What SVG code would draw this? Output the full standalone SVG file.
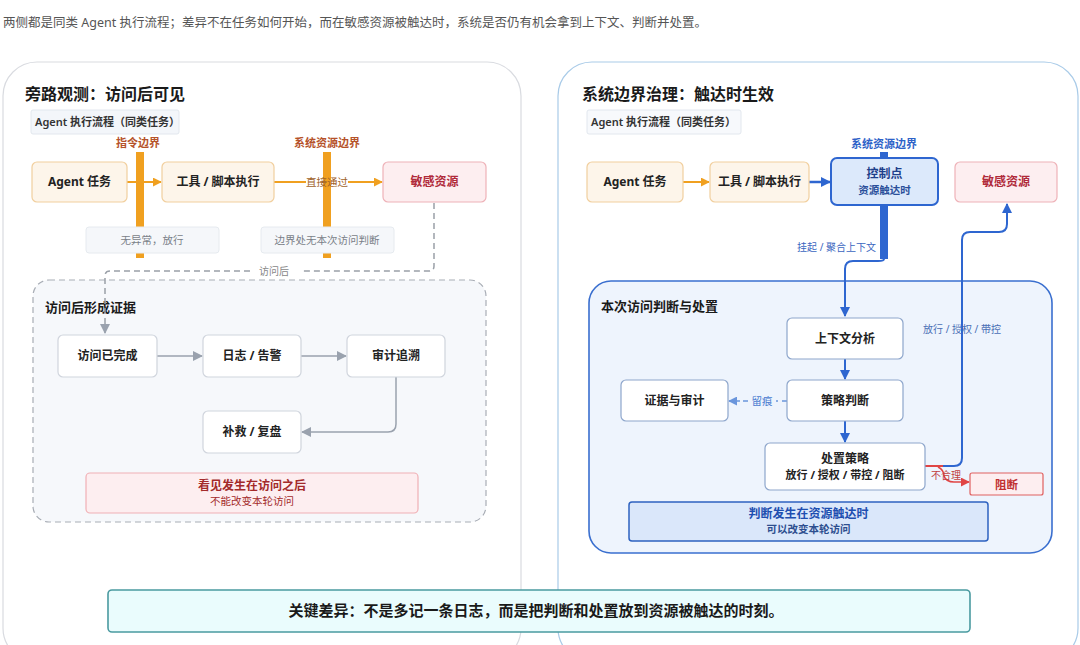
<svg xmlns="http://www.w3.org/2000/svg" width="1080" height="645" viewBox="0 0 1080 645">
<defs>
<style>
text{font-family:"Noto Sans","Noto Sans CJK SC",sans-serif;}
.t{font-weight:700;fill:#222;font-size:12px;text-anchor:middle;}
.title{font-weight:700;fill:#1a1a1a;font-size:16px;}
.sub{font-weight:700;fill:#1a1a1a;font-size:13px;}
.lab{font-size:11px;fill:#333;font-weight:600;}
.orange{fill:#fdf5ea;stroke:#f1cf9e;stroke-width:1.2;}
.red{fill:#fdeef0;stroke:#eeb2b8;stroke-width:1.2;}
.white{fill:#fff;stroke:#d0d5dd;stroke-width:1.2;}
.wb{fill:#fff;stroke:#8ea6cc;stroke-width:1.2;}
.note{fill:#f5f7fa;stroke:#e6eaef;stroke-width:1;}
.nt{font-size:10.5px;fill:#7a7f88;text-anchor:middle;}
</style>
<marker id="ao" viewBox="0 0 10 10" refX="9" refY="5" markerWidth="9" markerHeight="9" markerUnits="userSpaceOnUse" orient="auto"><path d="M0,0L10,5L0,10z" fill="#f0a020"/></marker>
<marker id="ab" viewBox="0 0 10 10" refX="9" refY="5" markerWidth="10" markerHeight="10" markerUnits="userSpaceOnUse" orient="auto"><path d="M0,0L10,5L0,10z" fill="#2e66d0"/></marker>
<marker id="alb" viewBox="0 0 10 10" refX="9" refY="5" markerWidth="9" markerHeight="9" markerUnits="userSpaceOnUse" orient="auto"><path d="M0,0L10,5L0,10z" fill="#6a95dc"/></marker>
<marker id="ag" viewBox="0 0 10 10" refX="9" refY="5" markerWidth="10" markerHeight="10" markerUnits="userSpaceOnUse" orient="auto"><path d="M0,0L10,5L0,10z" fill="#9aa2ae"/></marker>
<marker id="ar" viewBox="0 0 10 10" refX="9" refY="5" markerWidth="9" markerHeight="9" markerUnits="userSpaceOnUse" orient="auto"><path d="M0,0L10,5L0,10z" fill="#e04545"/></marker>
</defs>
<rect width="1080" height="645" fill="#fff"/>
<text x="3" y="27" font-size="12.5" fill="#555">两侧都是同类 Agent 执行流程；差异不在任务如何开始，而在敏感资源被触达时，系统是否仍有机会拿到上下文、判断并处置。</text>

<!-- panels -->
<g id="left-panel">
<rect x="3" y="62" width="518" height="600" rx="34" fill="#fff" stroke="#d9dbe0" stroke-width="1.2"/>
<text x="25" y="100" class="title">旁路观测：访问后可见</text>
<rect x="31" y="110" width="148" height="24" rx="2" fill="#f3f6fa" stroke="#e2e7ee"/>
<text x="35" y="126" class="lab">Agent 执行流程（同类任务）</text>
</g>
<g id="right-panel">
<rect x="558" y="62" width="520" height="600" rx="34" fill="#fff" stroke="#a9cbe8" stroke-width="1.2"/>
<text x="582" y="100" class="title">系统边界治理：触达时生效</text>
<rect x="587" y="110" width="154" height="24" rx="2" fill="#f7f9fc" stroke="#e2e7ee"/>
<text x="591" y="126" class="lab">Agent 执行流程（同类任务）</text>
</g>

<!-- containers -->
<g id="left-evidence">
<rect x="33" y="280" width="453" height="242" rx="16" fill="#f6f8fb" stroke="#a8adb5" stroke-width="1.2" stroke-dasharray="6,4"/>
<text x="45" y="312" class="sub">访问后形成证据</text>
</g>
<g id="r-judge-area">
<rect x="589" y="281" width="463" height="272" rx="22" fill="#eef4fd" stroke="#3a6fcf" stroke-width="1.6"/>
<text x="601" y="311" class="sub">本次访问判断与处置</text>
</g>

<!-- boundaries left -->
<g id="boundary-1">
<text x="138" y="147" font-size="11" font-weight="700" fill="#b5522a" text-anchor="middle">指令边界</text>
<rect x="136" y="152" width="8" height="106" fill="#f0a020"/>
</g>
<g id="boundary-2">
<text x="327" y="147" font-size="11" font-weight="700" fill="#b5522a" text-anchor="middle">系统资源边界</text>
<rect x="323" y="152" width="8" height="106" fill="#f0a020"/>
</g>

<g id="connectors">
<!-- left row -->
<line x1="127" y1="182" x2="161" y2="182" stroke="#f0a020" stroke-width="2" marker-end="url(#ao)"/>
<line x1="274" y1="182" x2="306" y2="182" stroke="#f0a020" stroke-width="2"/>
<line x1="348" y1="182" x2="382" y2="182" stroke="#f0a020" stroke-width="2" marker-end="url(#ao)"/>
<text x="327" y="186" font-size="10.5" fill="#a0622a" text-anchor="middle">直接通过</text>
<!-- after-access dashed -->
<path d="M434,203 V266 Q434,271 429,271 H300 M250,271 H110 Q105,271 105,276 V333" fill="none" stroke="#9aa0a8" stroke-width="1.5" stroke-dasharray="6,4" marker-end="url(#ag)"/>
<text x="274" y="275" font-size="10" fill="#888" text-anchor="middle">访问后</text>
<!-- evidence flow -->
<line x1="157" y1="356" x2="202" y2="356" stroke="#9aa2ae" stroke-width="1.5" marker-end="url(#ag)"/>
<line x1="301" y1="356" x2="346" y2="356" stroke="#9aa2ae" stroke-width="1.5" marker-end="url(#ag)"/>
<path d="M396,377 V424 Q396,432 388,432 H302" fill="none" stroke="#9aa2ae" stroke-width="1.5" marker-end="url(#ag)"/>

<!-- right row -->
<line x1="683" y1="182" x2="709" y2="182" stroke="#f0a020" stroke-width="2" marker-end="url(#ao)"/>
<line x1="809" y1="182" x2="830" y2="182" stroke="#2e66d0" stroke-width="2.5" marker-end="url(#ab)"/>
<rect x="880" y="152" width="8" height="6" fill="#2e66d0"/>
<rect x="880" y="205" width="8" height="54" fill="#2e66d0"/>
<path d="M884,259 Q884,261 878,261 H853 Q845,261 845,269 V316" fill="none" stroke="#2e66d0" stroke-width="2" marker-end="url(#ab)"/>
<text x="876" y="251" font-size="10" fill="#3a66c0" text-anchor="end">挂起 / 聚合上下文</text>
<line x1="845" y1="359" x2="845" y2="379" stroke="#2e66d0" stroke-width="2" marker-end="url(#ab)"/>
<line x1="845" y1="421" x2="845" y2="442" stroke="#2e66d0" stroke-width="2" marker-end="url(#ab)"/>
<line x1="787" y1="401" x2="776" y2="401" stroke="#6a95dc" stroke-width="1.4" stroke-dasharray="5,4"/>
<line x1="748" y1="401" x2="729" y2="401" stroke="#6a95dc" stroke-width="1.4" stroke-dasharray="5,3" marker-end="url(#alb)"/>
<text x="762" y="405" font-size="10.5" fill="#4a7bd0" text-anchor="middle">留痕</text>
<path d="M942,466 H954 Q962,466 962,458 V240 Q962,232 970,232 H999 Q1007,232 1007,224 V204" fill="none" stroke="#2e66d0" stroke-width="2" marker-end="url(#ab)"/>
<line x1="925" y1="466" x2="943" y2="466" stroke="#e04545" stroke-width="2"/>
<path d="M938,467 Q944,470 944,476 Q946,482 954,482 H969" fill="none" stroke="#e04545" stroke-width="1.6" marker-end="url(#ar)"/>
<text x="962" y="333" font-size="10" fill="#4a6fb5" text-anchor="middle">放行 / 授权 / 带控</text>
<text x="946" y="479" font-size="10" fill="#c04040" text-anchor="middle">不合理</text>
</g>

<!-- left notes drawn over bars -->
<g id="note-1">
<rect x="86" y="227" width="133" height="26" rx="3" class="note"/>
<text x="152" y="244" class="nt">无异常，放行</text>
</g>
<g id="note-2">
<rect x="261" y="227" width="133" height="26" rx="3" class="note"/>
<text x="327" y="244" class="nt">边界处无本次访问判断</text>
</g>

<!-- left nodes -->
<g id="l-agent"><rect x="32" y="162" width="95" height="40" rx="5" class="orange"/><text x="79.5" y="186" class="t">Agent 任务</text></g>
<g id="l-tool"><rect x="162" y="162" width="112" height="40" rx="5" class="orange"/><text x="218" y="186" class="t">工具 / 脚本执行</text></g>
<g id="l-resource"><rect x="383" y="162" width="103" height="40" rx="5" class="red"/><text x="434.5" y="186" class="t" style="fill:#b02a3a">敏感资源</text></g>
<g id="l-done"><rect x="58" y="335" width="99" height="42" rx="5" class="white"/><text x="107.5" y="360" class="t">访问已完成</text></g>
<g id="l-log"><rect x="203" y="335" width="98" height="42" rx="5" class="white"/><text x="252" y="360" class="t">日志 / 告警</text></g>
<g id="l-audit"><rect x="347" y="335" width="98" height="42" rx="5" class="white"/><text x="396" y="360" class="t">审计追溯</text></g>
<g id="l-fix"><rect x="203" y="411" width="98" height="42" rx="5" class="white"/><text x="252" y="436" class="t">补救 / 复盘</text></g>
<g id="l-warn">
<rect x="86" y="473" width="332" height="40" rx="4" fill="#fdeef0" stroke="#f0b0b5" stroke-width="1.2"/>
<text x="252" y="490" font-size="12" font-weight="700" fill="#a32a2a" text-anchor="middle">看见发生在访问之后</text>
<text x="252" y="505" font-size="10.5" fill="#a32a2a" text-anchor="middle">不能改变本轮访问</text>
</g>

<!-- right nodes -->
<g id="r-agent"><rect x="587" y="162" width="96" height="40" rx="5" class="orange"/><text x="635" y="186" class="t">Agent 任务</text></g>
<g id="r-tool"><rect x="710" y="162" width="99" height="40" rx="5" class="orange"/><text x="759.5" y="186" class="t">工具 / 脚本执行</text></g>
<g id="r-boundary"><text x="884" y="148" font-size="11" font-weight="600" fill="#2e62c8" text-anchor="middle">系统资源边界</text></g>
<g id="r-control">
<rect x="831" y="158" width="107" height="47" rx="6" fill="#dce9fb" stroke="#2e66d0" stroke-width="2"/>
<text x="884.5" y="178" class="t" style="fill:#1e3f8a">控制点</text>
<text x="884.5" y="194" font-size="10.5" font-weight="600" fill="#2a4f9a" text-anchor="middle">资源触达时</text>
</g>
<g id="r-resource"><rect x="955" y="162" width="102" height="40" rx="5" class="red"/><text x="1006" y="186" class="t" style="fill:#b02a3a">敏感资源</text></g>
<g id="r-context"><rect x="787" y="318" width="116" height="41" rx="5" class="wb"/><text x="845" y="343" class="t">上下文分析</text></g>
<g id="r-policy"><rect x="787" y="380" width="116" height="41" rx="5" class="wb"/><text x="845" y="405" class="t">策略判断</text></g>
<g id="r-evidence"><rect x="621" y="380" width="107" height="41" rx="5" class="wb"/><text x="674.5" y="405" class="t">证据与审计</text></g>
<g id="r-action">
<rect x="765" y="443" width="160" height="47" rx="5" class="wb"/>
<text x="845" y="463" class="t">处置策略</text>
<text x="845" y="479" class="t" style="font-size:11px">放行 / 授权 / 带控 / 阻断</text>
</g>
<g id="r-block"><rect x="970" y="473" width="73" height="22" rx="2" fill="#fdeef0" stroke="#e06060" stroke-width="1.2"/><text x="1006.5" y="489" font-size="11.5" font-weight="700" fill="#c03030" text-anchor="middle">阻断</text></g>
<g id="r-note">
<rect x="629" y="502" width="359" height="39" rx="3" fill="#dae7fa" stroke="#2e62c0" stroke-width="1.5"/>
<text x="808.5" y="518" font-size="12" font-weight="700" fill="#1e4fb0" text-anchor="middle">判断发生在资源触达时</text>
<text x="808.5" y="533" font-size="10.5" font-weight="600" fill="#2e4f8f" text-anchor="middle">可以改变本轮访问</text>
</g>

<g id="key-note">
<rect x="108" y="590" width="862" height="42" rx="4" fill="#eafcfd" stroke="#4a9aa0" stroke-width="1.6"/>
<text x="536" y="616" font-size="15" font-weight="700" fill="#1a1a1a" text-anchor="middle">关键差异：不是多记一条日志，而是把判断和处置放到资源被触达的时刻。</text>
</g>
</svg>
